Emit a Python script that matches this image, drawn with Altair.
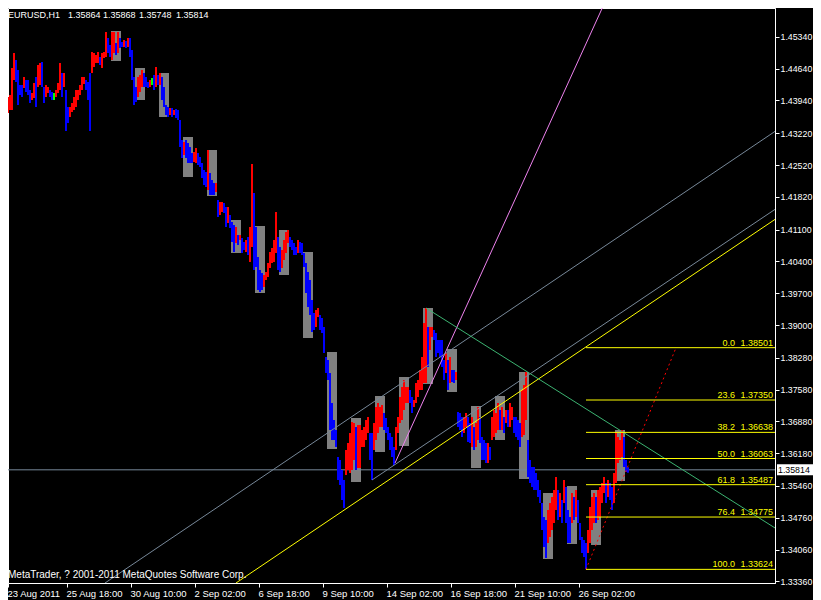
import altair as alt
import pandas as pd

FONT = "Liberation Sans"

bar_high = [
1.43686,1.43862,1.44016,1.44060,1.44654,1.44984,1.44830,1.44610,1.44280,1.44280,
1.44456,1.44390,1.44390,1.44170,1.44104,1.44324,1.44456,1.44720,1.44764,1.44786,
1.44236,1.44280,1.44236,1.44170,1.44126,1.44104,1.44170,1.44324,1.44764,1.44544,
1.44544,1.44170,1.43796,1.43796,1.43884,1.44016,1.44170,1.44170,1.44280,1.44456,
1.44456,1.44390,1.44346,1.44544,1.45006,1.44984,1.44940,1.45006,1.44896,1.44984,
1.45006,1.45446,1.45314,1.45160,1.45446,1.45446,1.45204,1.45446,1.45314,1.45226,
1.45270,1.45248,1.45314,1.45314,1.45050,1.44456,1.44236,1.44456,1.44500,1.44610,
1.44544,1.44456,1.44346,1.44390,1.44434,1.44500,1.44676,1.44500,1.44544,1.44456,
1.44236,1.43840,1.43796,1.43774,1.43774,1.43730,1.43752,1.43730,1.43510,1.43070,
1.43026,1.43070,1.43004,1.42916,1.42784,1.42806,1.42894,1.42784,1.42696,1.42564,
1.42410,1.42366,1.42850,1.42344,1.42190,1.42124,1.42124,1.41750,1.41706,1.41706,
1.41684,1.41596,1.41596,1.41420,1.41266,1.41200,1.41156,1.40980,1.40980,1.40914,
1.40826,1.40870,1.40936,1.41156,1.42542,1.41904,1.41156,1.40496,1.40210,1.40144,
1.40100,1.40166,1.40364,1.40606,1.40694,1.40870,1.41486,1.40936,1.40716,1.40650,
1.40870,1.41046,1.41090,1.40936,1.40870,1.40804,1.40716,1.40870,1.40826,1.40804,
1.40584,1.40364,1.40166,1.39990,1.39550,1.39264,1.39330,1.39374,1.39220,1.39154,
1.38956,1.38296,1.38230,1.37944,1.37284,1.36910,1.36690,1.36096,1.36030,1.35810,
1.35590,1.36250,1.36404,1.36624,1.36866,1.36844,1.36756,1.36800,1.36800,1.36690,
1.36756,1.36910,1.36976,1.36624,1.36624,1.36844,1.37196,1.37284,1.37196,1.37240,
1.37064,1.36954,1.36756,1.36624,1.36536,1.36316,1.36756,1.36976,1.37416,1.37636,
1.37790,1.37636,1.37636,1.37570,1.37416,1.37350,1.37724,1.37790,1.38010,1.38296,
1.39044,1.39374,1.38956,1.38956,1.38956,1.38890,1.38824,1.38670,1.38670,1.38670,
1.38230,1.38384,1.38230,1.38296,1.38010,1.38010,1.37966,1.37086,1.37064,1.36976,
1.36976,1.37064,1.36976,1.36844,1.36976,1.36756,1.36844,1.37196,1.36976,1.36536,
1.36470,1.36404,1.36404,1.36316,1.36976,1.37130,1.37064,1.37284,1.37130,1.37196,
1.36976,1.37130,1.37130,1.37284,1.37196,1.36976,1.36976,1.36910,1.36844,1.37570,
1.37680,1.37966,1.36470,1.36030,1.35876,1.35876,1.35744,1.35590,1.35370,1.35084,
1.34776,1.34710,1.34930,1.35084,1.35216,1.35370,1.35656,1.35370,1.35304,1.35150,
1.35590,1.35436,1.34930,1.34776,1.35304,1.35216,1.35370,1.35150,1.34644,1.34336,
1.34270,1.34204,1.34490,1.34996,1.35216,1.35304,1.35216,1.35370,1.35436,1.35524,
1.35656,1.35524,1.35590,1.35524,1.35436,1.35744,1.36624,1.36536,1.36470,1.36690,
1.36536,1.36030,1.35868]
bar_low = [
1.43532,1.43598,1.43664,1.43730,1.43730,1.44390,1.44346,1.43840,1.44060,1.44016,
1.44214,1.44126,1.44060,1.43884,1.43950,1.43994,1.43796,1.44236,1.44280,1.44236,
1.43884,1.44016,1.44104,1.44016,1.43950,1.43950,1.44016,1.44104,1.44170,1.44016,
1.44236,1.43268,1.43444,1.43576,1.43686,1.43730,1.43796,1.43950,1.44060,1.44170,
1.44302,1.44170,1.43950,1.43268,1.44544,1.44676,1.44764,1.44764,1.44720,1.44654,
1.44874,1.44896,1.44984,1.44896,1.44830,1.44984,1.44940,1.44984,1.45094,1.45116,
1.45116,1.45094,1.45116,1.44896,1.44390,1.43840,1.43906,1.44016,1.44126,1.44236,
1.44236,1.44236,1.44214,1.44236,1.44280,1.44170,1.44236,1.44280,1.44280,1.43950,
1.43796,1.43620,1.43576,1.43620,1.43576,1.43620,1.43554,1.43510,1.42916,1.42674,
1.42740,1.42674,1.42564,1.42564,1.42564,1.42586,1.42564,1.42520,1.42476,1.42234,
1.42080,1.42036,1.41970,1.41860,1.41860,1.41860,1.41926,1.41376,1.41420,1.41486,
1.41464,1.41156,1.41244,1.41134,1.40826,1.40606,1.40804,1.40760,1.40870,1.40584,
1.40650,1.40606,1.40540,1.40386,1.40716,1.40210,1.40276,1.39770,1.39726,1.39770,
1.39836,1.39990,1.40056,1.40254,1.40364,1.40386,1.40584,1.40210,1.40166,1.40254,
1.40430,1.40584,1.40804,1.40716,1.40650,1.40540,1.40540,1.40584,1.40584,1.40540,
1.40276,1.39704,1.39396,1.39220,1.38846,1.38890,1.38956,1.39176,1.38890,1.38824,
1.38384,1.37944,1.37790,1.36690,1.36470,1.36470,1.36316,1.35590,1.35480,1.35150,
1.34974,1.35700,1.35810,1.35744,1.35810,1.36030,1.35810,1.35854,1.35854,1.36316,
1.36316,1.36470,1.36624,1.36030,1.35590,1.36250,1.36470,1.36624,1.36756,1.36756,
1.36690,1.36624,1.36470,1.36250,1.36096,1.35920,1.36250,1.36624,1.36844,1.36910,
1.37130,1.37284,1.37284,1.37284,1.37064,1.37196,1.37284,1.37416,1.37570,1.37570,
1.37724,1.37724,1.38076,1.38450,1.38736,1.38670,1.38296,1.38384,1.38296,1.38076,
1.37790,1.37944,1.37570,1.37724,1.37746,1.37724,1.37790,1.36756,1.36690,1.36536,
1.36624,1.36756,1.36426,1.36404,1.36316,1.36250,1.36316,1.36470,1.36404,1.36030,
1.36030,1.35964,1.35964,1.36030,1.36470,1.36536,1.36624,1.36690,1.36690,1.36690,
1.36624,1.36844,1.36756,1.36756,1.36910,1.36624,1.36536,1.36470,1.36316,1.36536,
1.36580,1.36910,1.35656,1.35524,1.35436,1.35370,1.35370,1.35216,1.35084,1.34490,
1.34116,1.33874,1.34204,1.34336,1.34490,1.34644,1.34930,1.34710,1.34776,1.34644,
1.35084,1.34644,1.34204,1.34204,1.34644,1.34710,1.34776,1.34644,1.34270,1.33984,
1.33896,1.33632,1.33984,1.34204,1.34490,1.34644,1.34644,1.34710,1.34776,1.35084,
1.35304,1.35084,1.35216,1.35150,1.34930,1.35084,1.35524,1.35964,1.36030,1.36096,
1.35876,1.35766,1.35748]
lime_bar_hours = [51, 149]

# ---- daily session boxes (start hour, high, low)
box_start = [108, 132, 156, 180, 204, 228, 252, 276, 300, 324, 348,
             372, 396, 420, 444, 468, 492, 516, 540, 564, 588, 612]
box_high = [1.45468, 1.44654, 1.44544, 1.43136, 1.42850, 1.41310, 1.41178, 1.41090,
            1.40606, 1.38406, 1.36954, 1.37438, 1.37856, 1.39374, 1.38472, 1.37218,
            1.37438, 1.37966, 1.35304, 1.35458, 1.35370, 1.36690]
box_low = [1.44808, 1.43950, 1.43576, 1.42256, 1.41838, 1.40584, 1.39704, 1.40100,
           1.38714, 1.36272, 1.35546, 1.36206, 1.36338, 1.37702, 1.37526, 1.35854,
           1.36470, 1.35612, 1.33852, 1.34182, 1.34160, 1.35568]
box_hours = 10

# ---- drawn objects (trend lines / channels)
line_colors = ["#EE82EE", "#778899", "#778899", "#FFFF00", "#3CB371"]
line_h0 = [392, 102, 369, 233, 423]
line_p0 = [1.35964, 1.33324, 1.35590, 1.33324, 1.39374]
line_h1 = [602, 780, 780, 780, 780]
line_p1 = [1.46106, 1.43378, 1.41662, 1.41442, 1.34424]

# ---- Fibonacci retracement
fib_levels = ["0.0", "23.6", "38.2", "50.0", "61.8", "76.4", "100.0"]
fib_prices = [1.38501, 1.37350, 1.36638, 1.36063, 1.35487, 1.34775, 1.33624]
fib_hour0 = 583
fib_trend_h = [583, 673]
fib_trend_p = [1.33624, 1.38501]

last_price = 1.35814
title_parts = ["EURUSD,H1", "1.35864", "1.35868", "1.35748", "1.35814"]
copy_txt = "MetaTrader, ? 2001-2011 MetaQuotes Software Corp."

x_tick_hours = [5, 64, 128, 192, 256, 320, 384, 448, 512, 576]
x_tick_labels = ["23 Aug 2011", "25 Aug 18:00", "30 Aug 10:00", "2 Sep 02:00", "6 Sep 18:00",
                 "9 Sep 10:00", "14 Sep 02:00", "16 Sep 18:00", "21 Sep 10:00", "26 Sep 02:00"]
y_tick_prices = [1.45340, 1.44640, 1.43940, 1.43220, 1.42520, 1.41820, 1.41100, 1.40400,
                 1.39700, 1.39000, 1.38280, 1.37580, 1.36880, 1.36180, 1.35460, 1.34760,
                 1.34060, 1.33360]

# ---------------------------------------------------------------
assert len(bar_high) == len(bar_low), (len(bar_high), len(bar_low))
hours = [1 + 2 * i for i in range(len(bar_high))]
mids = [(h + l) / 2 for h, l in zip(bar_high, bar_low)]
cols = []
for i, m in enumerate(mids):
    prev = mids[i - 1] if i > 0 else m
    cols.append("#FF0000" if m >= prev else "#0000FF")
for i, h in enumerate(hours):
    if h in lime_bar_hours:
        cols[i] = "#00FF00"
bars = pd.DataFrame({"hour": hours, "high": bar_high, "low": bar_low, "col": cols})

boxes = pd.DataFrame({"h0": box_start, "h1": [b + box_hours for b in box_start],
                      "hi": box_high, "lo": box_low})
lines = pd.DataFrame({"h0": line_h0, "p0": line_p0, "h1": line_h1, "p1": line_p1,
                      "col": line_colors})
fib = pd.DataFrame({"lvl": fib_levels, "p": fib_prices, "h0": [fib_hour0] * len(fib_prices)})
fibtrend = pd.DataFrame({"h0": [fib_trend_h[0]], "h1": [fib_trend_h[1]],
                         "p0": [fib_trend_p[0]], "p1": [fib_trend_p[1]]})
lastdf = pd.DataFrame({"p": [last_price], "t": [f"{last_price:.5f}"]})
title_x = [0, 60, 95, 131, 168]
titledf = pd.DataFrame({"t": title_parts, "x": title_x})
copydf = pd.DataFrame({"t": [copy_txt]})

W, H = 767, 575
xs = alt.Scale(domain=[5, 772], nice=False, zero=False)
ys = alt.Scale(domain=[1.33324, 1.45974], nice=False, zero=False)

label_arr = "[" + ",".join(f"'{s}'" for s in x_tick_labels) + "]"
x_axis = alt.Axis(values=x_tick_hours, labelExpr=f"{label_arr}[round(datum.value/64)]",
                  labelAlign="left", labelBaseline="top", labelPadding=1, labelOffset=-1,
                  tickSize=4, grid=False, title=None, labelFlush=False, labelOverlap=False,
                  labelColor="white", tickColor="white", domainColor="white",
                  labelFont=FONT, labelFontSize=9.5)
y_axis = alt.Axis(orient="right", values=y_tick_prices, format=".5f", tickSize=4,
                  labelPadding=1, grid=False, title=None, labelFlush=False, labelOverlap=False,
                  labelColor="white", tickColor="white", domainColor="white",
                  labelFont=FONT, labelFontSize=8.8)


def X(f):
    return alt.X(f, type="quantitative", scale=xs, axis=x_axis)


def Y(f):
    return alt.Y(f, type="quantitative", scale=ys, axis=y_axis)


box_layer = alt.Chart(boxes).mark_rect(color="#808080", clip=True).encode(
    x=X("h0"), x2="h1", y=Y("hi"), y2="lo")

bid_line = alt.Chart(lastdf).mark_rule(color="#778899", strokeWidth=1).encode(y=Y("p"))

bar_layer = alt.Chart(bars).mark_rule(strokeWidth=2, clip=True).encode(
    x=X("hour"), y=Y("low"), y2="high", color=alt.Color("col:N", scale=None))

trend_layer = alt.Chart(lines).mark_rule(strokeWidth=1, clip=True).encode(
    x=X("h0"), x2="h1", y=Y("p0"), y2="p1", color=alt.Color("col:N", scale=None))

fib_trend_layer = alt.Chart(fibtrend).mark_rule(color="#FF0000", strokeWidth=1,
                                                 strokeDash=[2, 3], clip=True).encode(
    x=X("h0"), x2="h1", y=Y("p0"), y2="p1")

fib_lines = alt.Chart(fib).mark_rule(color="#FFFF00", strokeWidth=1).encode(
    x=X("h0"), x2=alt.value(W), y=Y("p"))

fib_lvl_txt = alt.Chart(fib).mark_text(color="#FFFF00", align="right", baseline="alphabetic",
                                       dy=-2, font=FONT, fontSize=9).encode(
    x=alt.value(W - 40), y=Y("p"), text="lvl:N")
fib_val_txt = alt.Chart(fib).mark_text(color="#FFFF00", align="right", baseline="alphabetic",
                                       dy=-2, font=FONT, fontSize=9).encode(
    x=alt.value(W - 2), y=Y("p"), text=alt.Text("p:Q", format=".5f"))

last_box = alt.Chart(lastdf).mark_rule(color="white", strokeWidth=11).encode(
    x=alt.value(W + 2), x2=alt.value(W + 38), y=Y("p"))
last_txt = alt.Chart(lastdf).mark_text(color="black", align="left", baseline="middle",
                                       font=FONT, fontSize=8.8).encode(
    x=alt.value(W + 3), y=Y("p"), text="t:N")

title_layer = alt.Chart(titledf).mark_text(color="white", align="left", baseline="alphabetic",
                                           font=FONT, fontSize=9).encode(
    x=alt.X("x:Q", scale=None), y=alt.value(10), text="t:N")
copy_layer = alt.Chart(copydf).mark_text(color="white", align="left", baseline="alphabetic",
                                         font=FONT, fontSize=10).encode(
    x=alt.value(0), y=alt.value(570), text="t:N")

chart = alt.layer(
    box_layer, bid_line, bar_layer, trend_layer, fib_trend_layer, fib_lines,
    fib_lvl_txt, fib_val_txt, last_box, last_txt, title_layer, copy_layer
).properties(
    width=W, height=H, background="black",
    padding={"left": 0, "top": 0, "right": 38, "bottom": 17},
    autosize=alt.AutoSizeParams(type="none"),
).configure_view(stroke="white", strokeWidth=1)

chart.save("out.html", embed_options={"renderer": "svg", "actions": False})
